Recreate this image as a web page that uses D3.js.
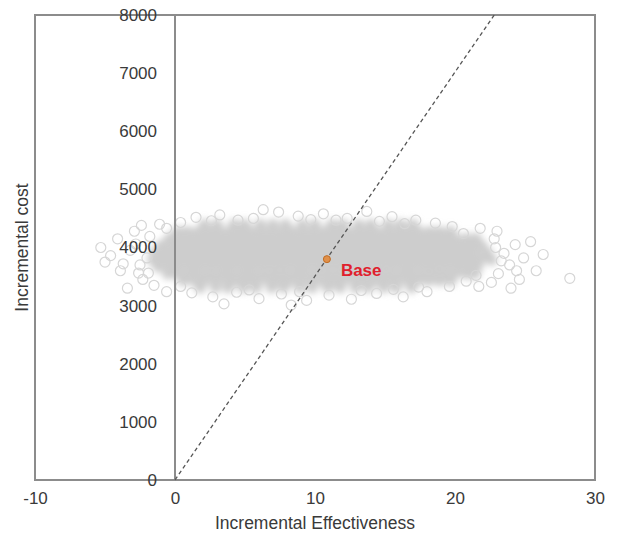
<!DOCTYPE html>
<html>
<head>
<meta charset="utf-8">
<script src="https://cdn.jsdelivr.net/npm/d3@7"></script>
<style>
  body { margin: 0; background: #fff; }
  svg text { font-family: "Liberation Sans", Arial, sans-serif; }
</style>
</head>
<body>
<svg></svg>
<script>
const xTicks = [-10, 0, 10, 20, 30];
const yTicks = [0, 1000, 2000, 3000, 4000, 5000, 6000, 7000, 8000];

// simulated (incremental effectiveness, incremental cost) pairs
const cloudRows = [
    [4390, [2.1, 3.0, 4.2, 5.0, 6.1, 7.0, 7.9, 9.1, 10.0, 11.2, 12.0, 13.1, 14.0, 15.2, 16.1, 17.0]],
    [4270, [0.2, 0.9, 1.7, 2.4, 3.2, 3.9, 4.7, 5.4, 6.2, 6.9, 7.7, 8.4, 9.2, 9.9, 10.7, 11.4, 12.2, 12.9, 13.7, 14.4, 15.2, 15.9, 16.7, 17.4, 18.2, 18.9, 19.7]],
    [4150, [-0.4, 0.3, 1.1, 1.8, 2.6, 3.3, 4.1, 4.9, 5.6, 6.4, 7.1, 7.9, 8.6, 9.4, 10.2, 10.9, 11.7, 12.4, 13.2, 13.9, 14.7, 15.5, 16.2, 17.0, 17.7, 18.5, 19.2, 20.0, 20.8, 21.5]],
    [4030, [-1.0, -0.2, 0.6, 1.3, 2.1, 2.8, 3.6, 4.3, 5.1, 5.9, 6.6, 7.4, 8.1, 8.9, 9.7, 10.4, 11.2, 11.9, 12.7, 13.5, 14.2, 15.0, 15.7, 16.5, 17.3, 18.0, 18.8, 19.5, 20.3, 21.1, 21.9]],
    [3910, [-1.4, -0.6, 0.2, 0.9, 1.7, 2.4, 3.2, 4.0, 4.7, 5.5, 6.2, 7.0, 7.8, 8.5, 9.3, 10.0, 10.8, 11.6, 12.3, 13.1, 13.8, 14.6, 15.4, 16.1, 16.9, 17.6, 18.4, 19.2, 19.9, 20.7, 21.4, 22.3]],
    [3790, [-1.6, -0.9, -0.1, 0.6, 1.4, 2.1, 2.9, 3.6, 4.4, 5.2, 5.9, 6.7, 7.4, 8.2, 8.9, 9.7, 10.5, 11.2, 12.0, 12.7, 13.5, 14.3, 15.0, 15.8, 16.5, 17.3, 18.0, 18.8, 19.6, 20.3, 21.1, 21.8, 22.6]],
    [3670, [-1.2, -0.4, 0.3, 1.1, 1.8, 2.6, 3.4, 4.1, 4.9, 5.6, 6.4, 7.1, 7.9, 8.7, 9.4, 10.2, 10.9, 11.7, 12.5, 13.2, 14.0, 14.7, 15.5, 16.3, 17.0, 17.8, 18.5, 19.3, 20.1, 20.8, 21.6]],
    [3550, [-0.5, 0.2, 1.0, 1.7, 2.5, 3.3, 4.0, 4.8, 5.5, 6.3, 7.1, 7.8, 8.6, 9.3, 10.1, 10.9, 11.6, 12.4, 13.1, 13.9, 14.7, 15.4, 16.2, 16.9, 17.7, 18.5, 19.2, 20.0, 20.8, 21.4]],
    [3430, [0.6, 1.4, 2.1, 2.9, 3.7, 4.4, 5.2, 5.9, 6.7, 7.5, 8.2, 9.0, 9.7, 10.5, 11.3, 12.0, 12.8, 13.5, 14.3, 15.1, 15.8, 16.6, 17.3, 18.1, 18.9, 19.7]],
    [3310, [1.8, 2.9, 3.8, 4.9, 5.8, 6.9, 7.8, 8.9, 9.8, 10.9, 11.8, 12.9, 13.8, 14.9, 15.8, 16.9]]
];

// scattered simulations around the dense core
const cloudFringe = [
    [1.5, 4520], [3.2, 4560], [5.6, 4500], [7.4, 4610], [8.8, 4540], [10.6, 4580], [12.3, 4500], [13.7, 4620],
    [15.5, 4530], [17.2, 4470], [18.6, 4420], [0.4, 4430], [6.3, 4650], [11.5, 4470], [19.8, 4360],
    [2.6, 4460], [4.5, 4470], [9.7, 4480], [14.6, 4450], [16.4, 4410], [20.6, 4240], [-0.6, 4330],
    [1.2, 3220], [2.7, 3150], [4.4, 3230], [6.0, 3120], [7.6, 3200], [9.4, 3090], [11.0, 3180], [12.6, 3110],
    [14.4, 3210], [16.3, 3150], [18.0, 3240], [19.6, 3330], [3.5, 3030], [8.3, 3010], [20.8, 3420],
    [5.3, 3270], [8.9, 3240], [13.3, 3260], [15.6, 3280], [17.4, 3320], [0.4, 3330], [21.5, 3520],
    [-5.3, 4000], [-4.6, 3860], [-4.1, 4150], [-3.7, 3720], [-3.2, 3950], [-2.9, 4280], [-2.6, 3560], [-2.3, 3450],
    [-2.0, 3820], [-1.8, 4190], [-3.9, 3600], [-5.0, 3750], [-2.4, 4380], [-1.5, 3350], [-0.6, 3240], [-1.1, 4400], [-3.4, 3300],
    [-2.5, 3700], [-2.8, 4060], [-1.9, 3560],
    [22.8, 4150], [23.1, 3550], [23.5, 3900], [23.9, 3700], [24.3, 4050], [24.6, 3450], [24.9, 3820], [25.4, 4100],
    [25.8, 3600], [26.3, 3880], [23.0, 4280], [22.6, 3400], [24.0, 3300], [28.2, 3470], [21.8, 4330], [21.7, 3330],
    [23.3, 3770], [22.9, 4000], [24.4, 3600]
];

const basePoint = { x: 10.85, y: 3800, label: 'Base' };
const thresholdLine = [[0, 0], [22.8, 8000]];

const width = 617;
const height = 541;
const margin = { top: 15, right: 22, bottom: 61, left: 35 };

const svg = d3.select('svg')
    .attr('width', width)
    .attr('height', height);

const x = d3.scaleLinear()
    .domain([-10, 30])
    .range([margin.left, width - margin.right]);

const y = d3.scaleLinear()
    .domain([0, 8000])
    .range([height - margin.bottom, margin.top]);

// soft edge for the crowded middle of the cloud
svg.append('defs').append('filter')
    .attr('id', 'soft')
    .attr('x', '-10%').attr('y', '-40%')
    .attr('width', '120%').attr('height', '180%')
    .append('feGaussianBlur')
    .attr('stdDeviation', 3);

const corePoints = [];
cloudRows.forEach(([cost, effs]) => effs.forEach(e => corePoints.push([e, cost])));

svg.append('g')
    .attr('filter', 'url(#soft)')
    .selectAll('circle')
    .data(corePoints)
    .enter().append('circle')
    .attr('cx', d => x(d[0]))
    .attr('cy', d => y(d[1]))
    .attr('r', 6)
    .attr('fill', '#cdcdcd');

// the lone hollow markers round the edge
svg.append('g')
    .selectAll('circle')
    .data(cloudFringe)
    .enter().append('circle')
    .attr('cx', d => x(d[0]))
    .attr('cy', d => y(d[1]))
    .attr('r', 5)
    .attr('fill', 'none')
    .attr('stroke', '#d6d6d6')
    .attr('stroke-width', 1.2);

// frame
svg.append('rect')
    .attr('x', x(-10))
    .attr('y', y(8000))
    .attr('width', x(30) - x(-10))
    .attr('height', y(0) - y(8000))
    .attr('fill', 'none')
    .attr('stroke', '#8c8c8c')
    .attr('stroke-width', 2);

// y axis sits on x = 0
svg.append('line')
    .attr('x1', x(0)).attr('x2', x(0))
    .attr('y1', y(0)).attr('y2', y(8000))
    .attr('stroke', '#8c8c8c')
    .attr('stroke-width', 2);

svg.append('path')
    .datum(thresholdLine)
    .attr('d', d3.line().x(d => x(d[0])).y(d => y(d[1])))
    .attr('fill', 'none')
    .attr('stroke', '#555')
    .attr('stroke-width', 1.3)
    .attr('stroke-dasharray', '4,3');

const yAxis = svg.append('g')
    .attr('transform', `translate(${x(0)},0)`)
    .call(d3.axisLeft(y).tickValues(yTicks).tickSize(0).tickPadding(18).tickFormat(d => String(d)));
yAxis.select('.domain').remove();
yAxis.selectAll('text').attr('font-size', 17).attr('fill', '#3a3a3a')
    .style('font-family', '"Liberation Sans", Arial, sans-serif');

const xAxis = svg.append('g')
    .attr('transform', `translate(0,${y(0)})`)
    .call(d3.axisBottom(x).tickValues(xTicks).tickSize(0).tickPadding(12).tickFormat(d => String(d)));
xAxis.select('.domain').remove();
xAxis.selectAll('text').attr('font-size', 17).attr('fill', '#3a3a3a')
    .style('font-family', '"Liberation Sans", Arial, sans-serif');

svg.append('circle')
    .attr('cx', x(basePoint.x))
    .attr('cy', y(basePoint.y))
    .attr('r', 3.5)
    .attr('fill', '#e0904a')
    .attr('stroke', '#c06a20')
    .attr('stroke-width', 1);

svg.append('text')
    .attr('x', x(basePoint.x) + 14)
    .attr('y', y(basePoint.y) + 17)
    .attr('font-size', 17)
    .attr('font-weight', 'bold')
    .attr('fill', '#e0202c')
    .text(basePoint.label);

svg.append('text')
    .attr('text-anchor', 'middle')
    .attr('x', (x(-10) + x(30)) / 2)
    .attr('y', 529)
    .attr('font-size', 17.5)
    .attr('fill', '#3a3a3a')
    .text('Incremental Effectiveness');

svg.append('text')
    .attr('text-anchor', 'middle')
    .attr('transform', `translate(28, ${(y(0) + y(8000)) / 2}) rotate(-90)`)
    .attr('font-size', 17.5)
    .attr('fill', '#3a3a3a')
    .text('Incremental cost');
</script>
</body>
</html>
